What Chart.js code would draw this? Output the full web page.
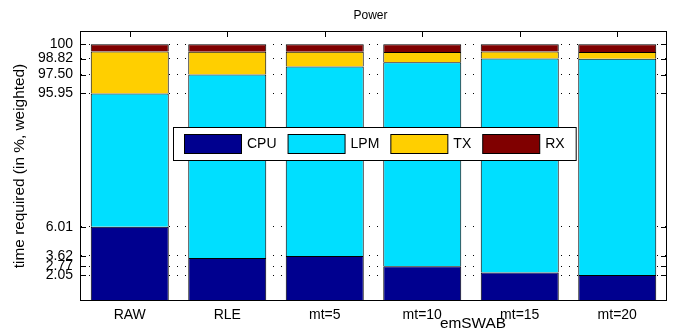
<!DOCTYPE html>
<html>
<head>
<meta charset="utf-8">
<script src="https://cdn.jsdelivr.net/npm/chart.js@4/dist/chart.umd.min.js"></script>
<style>
  html, body { margin: 0; padding: 0; background: #fff; }
  #wrap { width: 675px; height: 329px; }
</style>
</head>
<body>
<div id="wrap"><canvas id="chart" width="675" height="329"></canvas></div>
<script>
// Share of time per radio/CPU state (percent, weighted)
const categories = ['RAW', 'RLE', 'mt=5', 'mt=10', 'mt=15', 'mt=20'];
const cpu = [6.01, 3.46, 3.62, 2.77, 2.25, 2.05];
const lpm = [89.94, 94.04, 94.55, 95.75, 96.57, 96.75];
const tx  = [3.44, 1.88, 1.21, 0.84, 0.58, 0.56];
const rx  = [0.61, 0.62, 0.62, 0.64, 0.60, 0.64];

const yTickValues = [2.05, 2.77, 3.62, 6.01, 95.95, 97.50, 98.82, 100];
const yTickLabels = ['2.05', '2.77', '3.62', '6.01', '95.95', '97.50', '98.82', '100'];

const seriesNames = ['CPU', 'LPM', 'TX', 'RX'];
const seriesColors = ['rgb(0,0,143)', 'rgb(0,223,255)', 'rgb(255,207,0)', 'rgb(128,0,0)'];

const FONT = '"Liberation Sans", Arial, Helvetica, sans-serif';

// Value axis that keeps both ends linear and squeezes the middle band,
// so the small CPU share and the small TX/RX shares stay readable.
const BREAK_LOW = 8, BREAK_HIGH = 94, MID_SQUEEZE = 0.0817;
function warp(v) {
  if (v <= BREAK_LOW) return v;
  if (v >= BREAK_HIGH) return BREAK_LOW + (BREAK_HIGH - BREAK_LOW) * MID_SQUEEZE + (v - BREAK_HIGH);
  return BREAK_LOW + (v - BREAK_LOW) * MID_SQUEEZE;
}
function unwarp(w) {
  const midTop = BREAK_LOW + (BREAK_HIGH - BREAK_LOW) * MID_SQUEEZE;
  if (w <= BREAK_LOW) return w;
  if (w >= midTop) return BREAK_HIGH + (w - midTop);
  return BREAK_LOW + (w - BREAK_LOW) / MID_SQUEEZE;
}

class BrokenLinearScale extends Chart.LinearScale {
  static id = 'brokenLinear';
  static defaults = Chart.LinearScale.defaults;
  getPixelForValue(value) {
    if (value === null || value === undefined || isNaN(value)) return NaN;
    const a = warp(this.min), b = warp(this.max);
    return this.getPixelForDecimal((warp(value) - a) / (b - a));
  }
  getValueForPixel(pixel) {
    const a = warp(this.min), b = warp(this.max);
    return unwarp(a + this.getDecimalForPixel(pixel) * (b - a));
  }
}
Chart.register(BrokenLinearScale);

// Keep the dotted grid only in the gaps between the bars
const gridBehindBars = {
  id: 'gridBehindBars',
  beforeDraw(chart) {
    const { ctx, chartArea: a } = chart;
    const meta = chart.getDatasetMeta(0);
    ctx.save();
    ctx.beginPath();
    ctx.rect(0, 0, chart.width, chart.height);
    meta.data.forEach(bar => {
      const { x, width } = bar.getProps(['x', 'width'], true);
      ctx.rect(x - width / 2, a.top, width, a.bottom - a.top);
    });
    ctx.clip('evenodd');
  },
  beforeDatasetsDraw(chart) {
    chart.ctx.restore();
  }
};

// Axes box, inward tick marks, title and axis label
const axesDecor = {
  id: 'axesDecor',
  beforeDatasetsDraw(chart) {
    const { ctx, chartArea: a, scales: { x, y } } = chart;
    ctx.save();
    ctx.strokeStyle = '#000';
    ctx.lineWidth = 1;
    ctx.beginPath();
    y.ticks.forEach(t => {
      const py = Math.round(y.getPixelForValue(t.value)) + 0.5;
      ctx.moveTo(a.left, py); ctx.lineTo(a.left + 5, py);
      ctx.moveTo(a.right, py); ctx.lineTo(a.right - 5, py);
    });
    x.ticks.forEach((t, i) => {
      const px = Math.round(x.getPixelForTick(i)) + 0.5;
      ctx.moveTo(px, a.top); ctx.lineTo(px, a.top + 5);
      ctx.moveTo(px, a.bottom); ctx.lineTo(px, a.bottom - 5);
    });
    ctx.stroke();
    ctx.strokeRect(a.left - 0.5, a.top - 0.5, a.right - a.left + 1, a.bottom - a.top + 1);
    ctx.restore();
  },
  afterDraw(chart) {
    const { ctx, chartArea: a, scales: { x } } = chart;
    ctx.save();
    ctx.fillStyle = '#000';
    ctx.textAlign = 'center';
    ctx.textBaseline = 'alphabetic';
    ctx.font = '12px ' + FONT;
    ctx.fillText('Power', (a.left + a.right) / 2 - 3, 19);
    ctx.font = '15.4px ' + FONT;
    ctx.fillText('emSWAB', x.getPixelForValue(3.5) + 2, 328);
    ctx.restore();
  }
};

// Boxed legend sitting inside the plot
const boxedLegend = {
  id: 'boxedLegend',
  afterDatasetsDraw(chart) {
    const { ctx } = chart;
    const left = 173, top = 127, height = 33;
    const padX = 11, swW = 57, swH = 19, swTop = 134, textGap = 6, itemGap = 11;
    ctx.save();
    ctx.font = '14px ' + FONT;
    let width = padX;
    const items = chart.data.datasets.map(ds => {
      const w = ctx.measureText(ds.label).width;
      const item = { x: left + width, label: ds.label, color: ds.backgroundColor };
      width += swW + textGap + w + itemGap;
      return item;
    });
    ctx.fillStyle = '#fff';
    ctx.fillRect(left, top, width, height);
    ctx.strokeStyle = '#000';
    ctx.lineWidth = 1;
    ctx.strokeRect(left + 0.5, top + 0.5, width, height);
    items.forEach(it => {
      ctx.fillStyle = it.color;
      ctx.fillRect(it.x + 0.5, swTop + 0.5, swW, swH);
      ctx.strokeRect(it.x + 0.5, swTop + 0.5, swW, swH);
      ctx.fillStyle = '#000';
      ctx.textAlign = 'left';
      ctx.textBaseline = 'middle';
      ctx.fillText(it.label, it.x + swW + textGap, swTop + swH / 2 + 1);
    });
    ctx.restore();
  }
};

const seriesData = [cpu, lpm, tx, rx];

new Chart(document.getElementById('chart'), {
  type: 'bar',
  data: {
    labels: categories,
    datasets: seriesNames.map((name, i) => ({
      label: name,
      data: seriesData[i],
      backgroundColor: seriesColors[i],
      borderColor: '#000',
      borderWidth: 1
    }))
  },
  options: {
    responsive: false,
    animation: false,
    devicePixelRatio: 1,
    layout: { padding: { top: 32, right: 9, bottom: 0, left: 0 } },
    datasets: { bar: { categoryPercentage: 0.8, barPercentage: 1 } },
    plugins: {
      legend: { display: false },
      title: { display: false },
      tooltip: { enabled: false }
    },
    scales: {
      x: {
        stacked: true,
        grid: { display: false, drawTicks: false },
        border: { display: false },
        ticks: { color: '#000', font: { family: FONT, size: 14 }, padding: 7, maxRotation: 0, autoSkip: false },
        afterFit: s => { s.height = 29; }
      },
      y: {
        type: 'brokenLinear',
        stacked: true,
        min: 0,
        max: 101,
        afterBuildTicks: s => { s.ticks = yTickValues.map(v => ({ value: v })); },
        ticks: {
          autoSkip: false,
          color: '#000',
          font: { family: FONT, size: 14 },
          padding: 8,
          callback: (v, i) => yTickLabels[i]
        },
        grid: { color: '#000', lineWidth: 1, drawTicks: false },
        border: { display: false, dash: [1, 7] },
        title: {
          display: true,
          text: 'time required (in %, weighted)',
          color: '#000',
          font: { family: FONT, size: 15.4 },
          padding: { top: 11, bottom: 0 }
        },
        afterFit: s => { s.width = 81; }
      }
    }
  },
  plugins: [gridBehindBars, axesDecor, boxedLegend]
});
</script>
</body>
</html>
